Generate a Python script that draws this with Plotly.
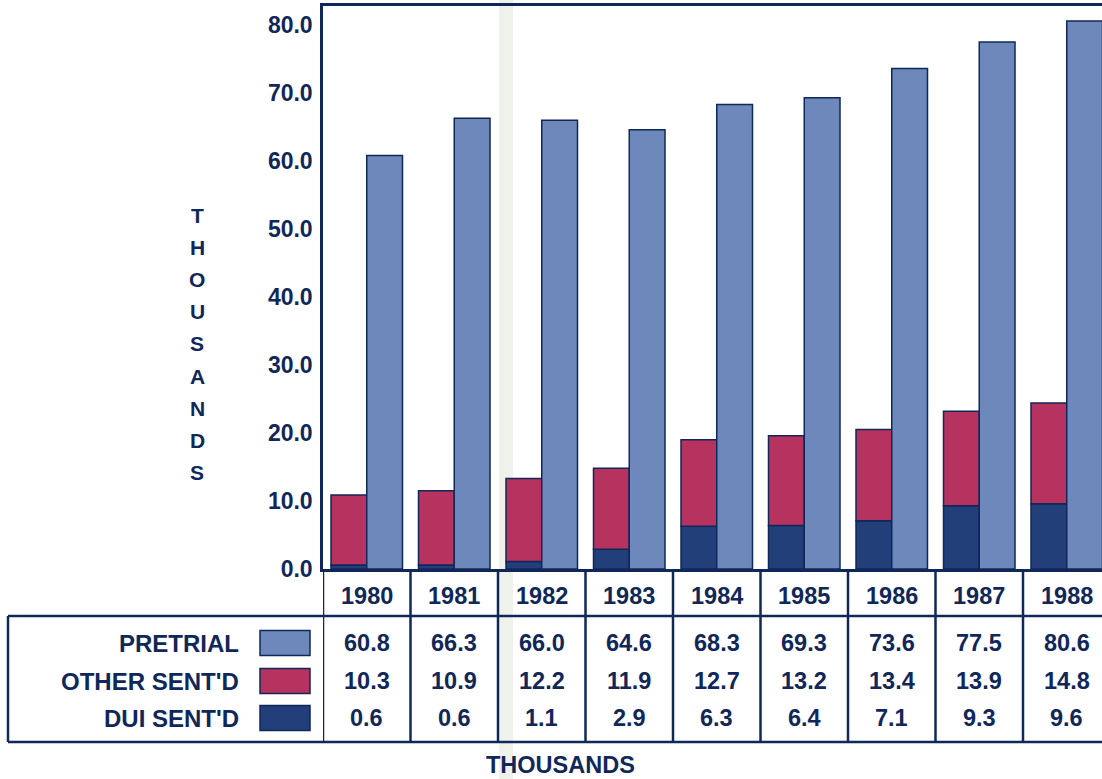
import plotly.graph_objects as go

# ---- data (thousands) ----
years = ["1980", "1981", "1982", "1983", "1984", "1985", "1986", "1987", "1988"]
pretrial = [60.8, 66.3, 66.0, 64.6, 68.3, 69.3, 73.6, 77.5, 80.6]
other_sentd = [10.3, 10.9, 12.2, 11.9, 12.7, 13.2, 13.4, 13.9, 14.8]
dui_sentd = [0.6, 0.6, 1.1, 2.9, 6.3, 6.4, 7.1, 9.3, 9.6]
series_labels = ["PRETRIAL", "OTHER SENT'D", "DUI SENT'D"]
y_ticks = [0, 10, 20, 30, 40, 50, 60, 70, 80]

# ---- style ----
NAVY = "#10275a"
C_PRE = "#6d88bb"
C_OTHER = "#b6335f"
C_DUI = "#233f7a"
FONT = "Liberation Sans, Arial, sans-serif"
FS = 23.5

W, H = 1102, 779
PLOT_L, PLOT_R, PLOT_T, PLOT_B = 323, 1102, 6, 569
CAT_W = 87.5  # pixels per year column


def px(xp):
    return (xp - PLOT_L) / (PLOT_R - PLOT_L)


def py(yp):
    return (PLOT_B - yp) / (PLOT_B - PLOT_T)


def label(xv, yv, text, xref="paper", xanchor="center", size=FS):
    return dict(x=xv, y=yv, xref=xref, yref="paper", text=text, showarrow=False,
                xanchor=xanchor, yanchor="middle",
                font=dict(size=size, color=NAVY, family=FONT, weight="bold"))


x = list(range(len(years)))
y_top = (PLOT_B - PLOT_T) / 6.8
x_right = -0.5 + (PLOT_R - PLOT_L) / CAT_W

fig = go.Figure()
bar_line = dict(color=NAVY, width=1.5)
fig.add_trace(go.Bar(x=x, y=dui_sentd, offsetgroup="sent", name=series_labels[2],
                     marker=dict(color=C_DUI, line=bar_line)))
fig.add_trace(go.Bar(x=x, y=other_sentd, base=dui_sentd, offsetgroup="sent",
                     name=series_labels[1], marker=dict(color=C_OTHER, line=bar_line)))
fig.add_trace(go.Bar(x=x, y=pretrial, offsetgroup="pre", name=series_labels[0],
                     marker=dict(color=C_PRE, line=bar_line)))

shapes = []
annotations = []
LW = 2.5

# faint vertical strip running down the page
shapes.append(dict(type="rect", xref="paper", yref="paper", x0=px(499), x1=px(513),
                   y0=py(H), y1=py(0), fillcolor="rgba(215,222,205,0.4)",
                   line=dict(width=0), layer="below"))

# table grid: column dividers below the axis
for k in range(len(years) + 1):
    shapes.append(dict(type="line", xref="x", yref="paper", x0=k - 0.5, x1=k - 0.5,
                       y0=py(569), y1=py(742), line=dict(color=NAVY, width=LW)))
# horizontal rules
for yy in (616, 742):
    shapes.append(dict(type="line", xref="paper", yref="paper", x0=px(8), x1=px(W),
                       y0=py(yy), y1=py(yy), line=dict(color=NAVY, width=LW)))
# left edge of the legend box
shapes.append(dict(type="line", xref="paper", yref="paper", x0=px(8), x1=px(8),
                   y0=py(616), y1=py(742), line=dict(color=NAVY, width=LW)))

# year row
for i, yr in enumerate(years):
    annotations.append(label(i, py(596), yr, xref="x"))

# data rows with legend swatches
rows = [(series_labels[0], pretrial, C_PRE, 643),
        (series_labels[1], other_sentd, C_OTHER, 681),
        (series_labels[2], dui_sentd, C_DUI, 718)]
for name, vals, col, yc in rows:
    annotations.append(label(px(241), py(yc), name, xanchor="right", size=24))
    shapes.append(dict(type="rect", xref="paper", yref="paper", x0=px(260), x1=px(310),
                       y0=py(yc + 12.5), y1=py(yc - 12.5), fillcolor=col,
                       line=dict(color=NAVY, width=1.5)))
    for i, v in enumerate(vals):
        annotations.append(label(i, py(yc), f"{v:.1f}", xref="x"))

# vertical axis title, one letter per line
for j, ch in enumerate("THOUSANDS"):
    annotations.append(label(px(197), py(215 + j * 32.2), ch, size=21))

# bottom caption
annotations.append(label(px(560), py(765), "THOUSANDS"))

fig.update_layout(
    width=W, height=H,
    margin=dict(l=PLOT_L, r=W - PLOT_R, t=PLOT_T, b=H - PLOT_B, pad=0),
    paper_bgcolor="white", plot_bgcolor="white",
    barmode="group", bargap=16 / CAT_W, bargroupgap=0,
    showlegend=False,
    shapes=shapes, annotations=annotations,
    xaxis=dict(range=[-0.5, x_right], showticklabels=False, ticks="", showgrid=False,
               zeroline=False, showline=True, mirror=True, linecolor=NAVY, linewidth=LW),
    yaxis=dict(range=[0, y_top], tickvals=y_ticks, tickformat=".1f", ticks="",
               ticklabelstandoff=3, showgrid=False, zeroline=False, showline=True,
               linecolor=NAVY, linewidth=LW,
               tickfont=dict(size=23, color=NAVY, family=FONT, weight="bold")),
    hovermode=False,
)

fig.write_html("out.html")
